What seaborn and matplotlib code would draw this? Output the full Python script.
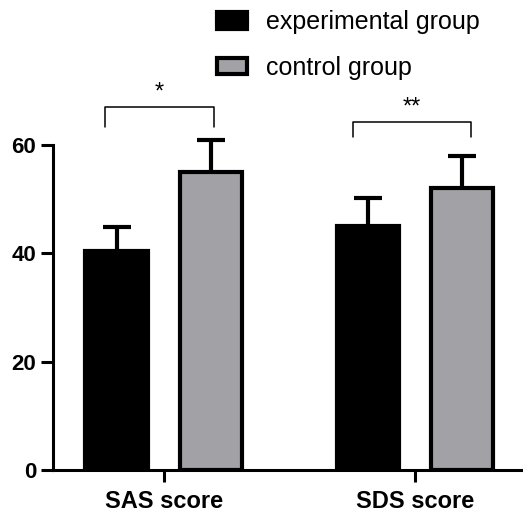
import matplotlib
matplotlib.use("Agg")
import matplotlib.pyplot as plt
import seaborn as sns
import pandas as pd

categories = ["SAS score", "SDS score"]
groups = ["experimental group", "control group"]
exp_means = [40.5, 45.0]
ctrl_means = [55.0, 52.0]
exp_sd = [4.4, 5.2]
ctrl_sd = [5.9, 6.0]
sig_labels = ["*", "**"]

sns.set_theme(style="white")
plt.rcParams['font.family'] = ['Liberation Sans', 'DejaVu Sans']
plt.rcParams['text.color'] = 'black'
plt.rcParams['xtick.color'] = 'black'
plt.rcParams['ytick.color'] = 'black'

df = pd.DataFrame({
    "category": categories * 2,
    "group": [groups[0]] * 2 + [groups[1]] * 2,
    "value": exp_means + ctrl_means,
})

fig = plt.figure(figsize=(5.23, 5.15), dpi=100)
ax = fig.add_axes([0.101, 0.0874, 0.899, 0.9126])

sns.barplot(data=df, x="category", y="value", hue="group", order=categories,
            hue_order=groups, palette=["#000000", "#a2a1a6"], width=0.75, gap=0.34,
            edgecolor="black", linewidth=3, saturation=1, ax=ax, zorder=2, errorbar=None)

sds = [exp_sd, ctrl_sd]
for cont, sd in zip(ax.containers, sds):
    xs = [p.get_x() + p.get_width() / 2 for p in cont.patches]
    ys = [p.get_height() for p in cont.patches]
    ax.errorbar(xs, ys, yerr=sd, fmt="none", ecolor="black", elinewidth=3,
                capsize=10, capthick=3, zorder=1)

ax.set_xlim(-0.441, 1.43)
ax.set_ylim(0, 86.77)
ax.set_yticks([0, 20, 40, 60])
ax.spines['left'].set_bounds(0, 60)
for s in ['top', 'right']:
    ax.spines[s].set_visible(False)
for s in ['left', 'bottom']:
    ax.spines[s].set_linewidth(2.2)
    ax.spines[s].set_color("black")
ax.tick_params(axis='both', which='major', length=8.5, width=2.2, color="black",
               labelcolor="black", labelsize=16, direction='out', bottom=True, left=True)
ax.tick_params(axis='y', pad=3.5)
ax.tick_params(axis='x', pad=6, labelsize=17)
for lab in ax.get_xticklabels() + ax.get_yticklabels():
    lab.set_fontweight("bold")
ax.set_xlabel("")
ax.set_ylabel("")

# significance brackets
c0 = ax.containers[0].patches
c1 = ax.containers[1].patches
brackets = [(67.0, 63.3), (64.3, 61.4)]
left_frac = [0.31, 0.26]
right_frac = [0.55, 0.64]
for i, (top, leg) in enumerate(brackets):
    xl = c0[i].get_x() + c0[i].get_width() * left_frac[i]
    xr = c1[i].get_x() + c1[i].get_width() * right_frac[i]
    ax.plot([xl, xl, xr, xr], [leg, top, top, leg], color="black", lw=1.1,
            clip_on=False, zorder=3)
    ax.text((xl + xr) / 2, top + 0.6, sig_labels[i], ha="center", va="bottom",
            fontsize=17, color="black")

handles, labels = ax.get_legend_handles_labels()
if ax.get_legend() is not None:
    ax.get_legend().remove()
leg = fig.legend(handles, labels, loc="upper left", bbox_to_anchor=(204 / 523, 1 + 2 / 515),
                 frameon=False, fontsize=18, borderpad=0, handlelength=1.2,
                 handleheight=0.64, handletextpad=0.8, labelspacing=0.85,
                 labelcolor="black")
for h in leg.legend_handles:
    h.set_edgecolor("black")
    h.set_linewidth(3)

fig.savefig("out.png", dpi=100)
